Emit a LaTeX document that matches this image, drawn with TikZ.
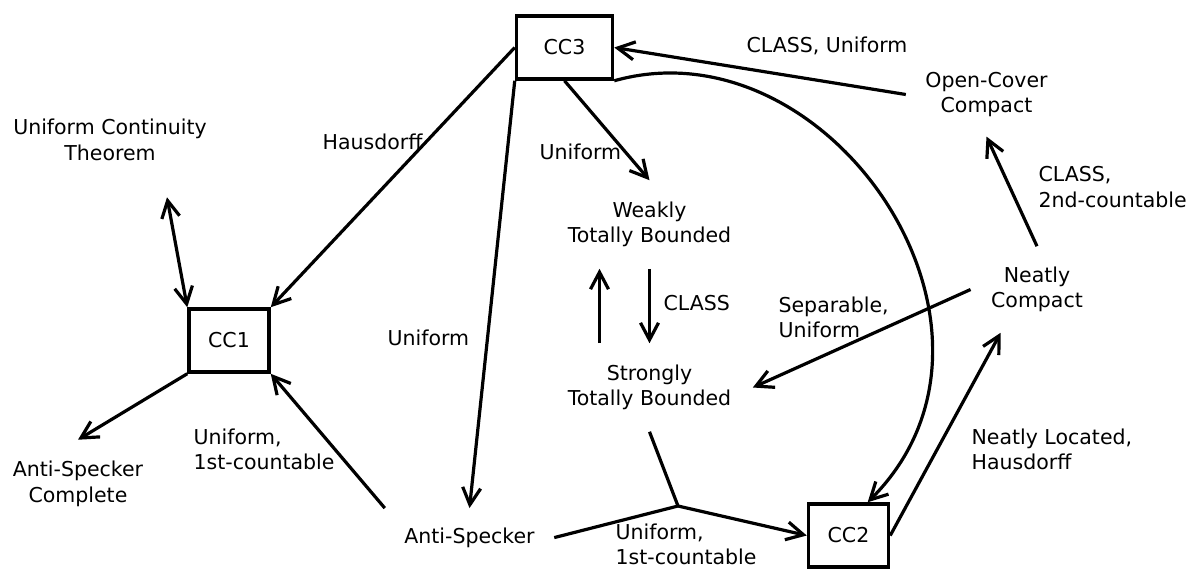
\documentclass[tikz,border=0pt]{standalone}
\usepackage{fontspec}
\setmainfont{DejaVu Sans}
\usetikzlibrary{arrows.meta}

\begin{document}
\begin{tikzpicture}[x=1pt,y=-1pt,->,>={Straight Barb[length=17pt,width=18pt]},
            line width=3.2pt,font=\fontsize{20.5}{25.5}\selectfont]
        \tikzstyle{box}=[draw,line width=3.5pt,minimum width=80pt,minimum height=63pt]
        \tikzstyle{prop}=[align=center,inner sep=20pt]
        \tikzstyle{lbl}=[align=left,inner sep=0pt,anchor=north west]

        \useasboundingbox (0,0) rectangle (1189,568);

        \node[box] (cc1) at (229,340.5) {CC1};
        \node[box] (cc2) at (848.5,535.5) {CC2};
        \node[box,minimum width=96pt] (cc3) at (564.5,47.5) {CC3};

        \node[prop] (uct) at (110,140) {Uniform Continuity\\Theorem};
        \node[prop] (asc) at (78,484) {Anti-Specker\\Complete};
        \node[prop,inner sep=18pt] (as) at (469.5,537.6) {Anti-Specker};
        \node[prop] (wtb) at (649.5,224.5) {Weakly\\Totally Bounded};
        \node[prop] (stb) at (649.5,387.5) {Strongly\\Totally Bounded};
        \node[prop,inner sep=18pt] (occ) at (986.5,94.5) {Open-Cover\\Compact};
        \node[prop,inner sep=19pt] (nc) at (1037,289.5) {Neatly\\Compact};
        \coordinate (j) at (678,506);

        % labels
        \node[lbl] (lhaus) at (321,132) {Hausdorff};
        \node[lbl] (lunif) at (386,328) {Uniform};
        \node[lbl] (lunifw) at (538,142) {Uniform};
        \node[lbl] (lclun) at (745,35) {CLASS, Uniform};
        \node[lbl] (lclass) at (662,294) {CLASS};
        \node[lbl] (lsep) at (777,295) {Separable,\\Uniform};
        \node[lbl] (lsecond) at (1037,165) {CLASS,\\2nd-countable};
        \node[lbl] (lneat) at (970,427) {Neatly Located,\\Hausdorff};
        \node[lbl] (lfirst) at (192,427) {Uniform,\\1st-countable};
        \node[lbl] (lfirstb) at (614,522) {Uniform,\\1st-countable};

        \path
            (cc3.west) edge (cc1.north east)
            (cc3.south west) edge (as.north)
            (cc3.south) edge (wtb.north)
            (occ.west) edge (cc3.east)
            (nc.north) edge (occ.south)
            (nc.west) edge (stb.east)
            (cc2.east) edge (nc.230)
            (wtb.south) edge (stb.north)
            ([xshift=-50pt]stb.north) edge ([xshift=-50pt]wtb.south)
            (cc1.south west) edge (asc.north)
            (as.north west) edge (cc1.south east);

        \draw (cc3.south east) .. controls (830,20) and (1040,330) .. (cc2.60);
        \draw[<->] ([xshift=57pt,yshift=-15pt]uct.south) -- (cc1.north west);
        \draw[-] (stb.south) -- (j);
        \draw (as.east) -- (j) -- (cc2.west);

        \end{tikzpicture}
\end{document}
